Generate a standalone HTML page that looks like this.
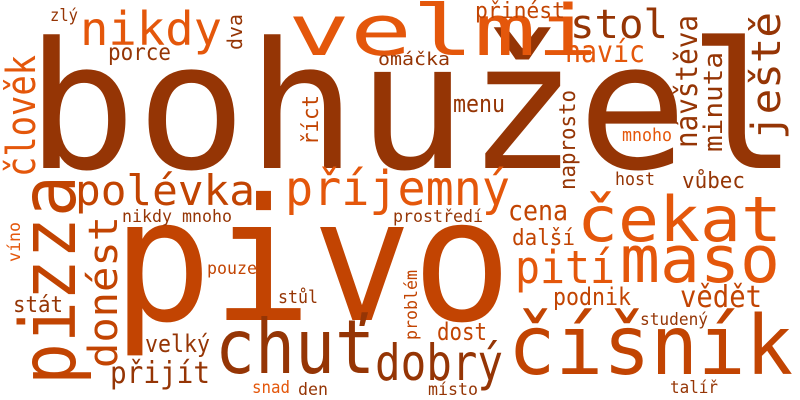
<!DOCTYPE html>
<html><head><meta charset="utf-8"><style>
html,body{margin:0;padding:0;background:#fff}
svg{display:block}
text{font-family:"DejaVu Sans Mono","Liberation Mono",monospace}
</style></head><body>
<svg id="cloud" width="800" height="400" viewBox="0 0 800 400" xmlns="http://www.w3.org/2000/svg">
<rect width="800" height="400" fill="#fff"/>
</svg>
<script>
const words = ["bohužel","pivo","velmi","nikdy","porce","zlý","stol","přinést","navíc","omáčka","menu","mnoho","host","vůbec","polévka","příjemný","čekat","cena","prostředí","nikdy mnoho","další","maso","pití","pouze","podnik","vědět","stát","stůl","studený","dost","číšník","chuť","dobrý","velký","přijít","snad","den","místo","talíř","člověk","dva","říct","pizza","donést","víno","ještě","návštěva","minuta","naprosto","problém"];
const sizes = [176,170,70,46,23,17,40,22,30,18,24,18,18,22,42,48,62,28,17,17,22,65,45,17,24,30,22,18,17,24,82,75,50,24,30,17,17,17,17,40,20,22,77,40,17,40,30,26,22,17];
const colorIdx = [0,1,2,2,0,0,0,1,2,0,0,2,0,0,1,2,2,1,0,0,1,2,2,1,1,1,0,0,0,1,1,0,0,0,0,2,0,0,0,2,0,1,1,1,2,0,0,0,0,1];
const rotated = [0,0,0,0,0,0,0,0,0,0,0,0,0,0,0,0,0,0,0,0,0,0,0,0,0,0,0,0,0,0,0,0,0,0,0,0,0,0,0,1,1,1,1,1,1,1,1,1,1,1];
const palette = ["#953505","#c24402","#e4570b"];
// layout: [x, y(baseline or start), textLength]
const layout = [[26,168,772],[112,320,400],[288,55,310],[80,45,142],[108,60,63],[50,21,28],[570,38,98],[475,18,90],[565,62,80],[378,65,72],[453,112,52],[622,141,50],[615,185,40],[682,188,63],[75,205,180],[285,205,225],[577,241,205],[508,220,60],[393,222,90],[122,222,110],[512,245,63],[620,282,160],[515,283,100],[207,274,50],[553,305,78],[680,307,82],[13,312,50],[278,303,40],[640,325,68],[437,340,50],[508,374,285],[215,373,160],[375,380,128],[145,352,65],[110,383,100],[252,393,38],[298,395,30],[428,395,50],[670,393,48],[35,177,122],[242,50,36],[318,145,50],[75,385,210],[117,368,152],[20,262,40],[780,140,128],[697,148,133],[722,152,100],[575,190,100],[417,340,70]];
const svg = document.getElementById('cloud');
const NS = "http://www.w3.org/2000/svg";
words.forEach((w,i)=>{
  const t = document.createElementNS(NS,'text');
  const [x,y,len] = layout[i];
  t.setAttribute('font-size', sizes[i]);
  t.setAttribute('fill', palette[colorIdx[i]]);
  t.setAttribute('textLength', len);
  t.setAttribute('lengthAdjust','spacingAndGlyphs');
  if (rotated[i]) { t.setAttribute('transform',`translate(${x},${y}) rotate(-90)`); t.setAttribute('x',0); t.setAttribute('y',0); }
  else { t.setAttribute('x',x); t.setAttribute('y',y); }
  t.textContent = w;
  
  
  svg.appendChild(t);
});
</script>
</body></html>
